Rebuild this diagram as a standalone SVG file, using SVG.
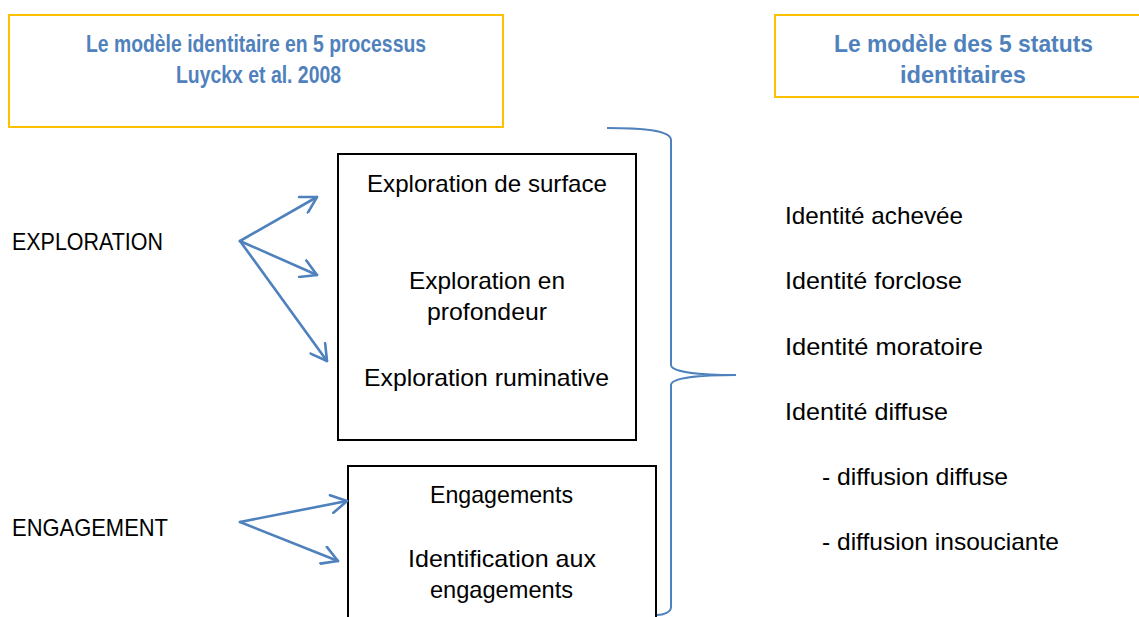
<svg xmlns="http://www.w3.org/2000/svg" width="1139" height="617" viewBox="0 0 1139 617">
<style>
.t{font-family:"Liberation Sans",Arial,sans-serif;font-size:24px;fill:#000}
.h{font-family:"Liberation Sans",Arial,sans-serif;font-size:24px;font-weight:bold;fill:#4F81BD}
.gold{fill:#fff;stroke:#FFC000;stroke-width:2}
.box{fill:#fff;stroke:#000;stroke-width:2}
.arr{fill:none;stroke:#4F81BD;stroke-width:2.6;stroke-linecap:round}
.brace{fill:none;stroke:#4F81BD;stroke-width:2}
</style>
<defs>
<marker id="ah" markerUnits="userSpaceOnUse" viewBox="0 0 20 20" refX="18" refY="10" markerWidth="20" markerHeight="20" orient="auto">
<path d="M2.4,1 L18,10 L2.4,19" fill="none" stroke="#4F81BD" stroke-width="2.6" stroke-linecap="round" stroke-linejoin="round"/>
</marker>
</defs>
<rect width="1139" height="617" fill="#fff"/>
<g id="title-left">
<rect class="gold" x="9" y="15" width="494" height="112"/>
<text class="h" x="86" y="52" textLength="340" lengthAdjust="spacingAndGlyphs">Le modèle identitaire en 5 processus</text>
<text class="h" x="176" y="83" textLength="165" lengthAdjust="spacingAndGlyphs">Luyckx et al. 2008</text>
</g>
<g id="title-right">
<rect class="gold" x="775" y="15" width="380" height="82"/>
<text class="h" x="834" y="52" textLength="259" lengthAdjust="spacingAndGlyphs">Le modèle des 5 statuts</text>
<text class="h" x="900" y="83" textLength="126" lengthAdjust="spacingAndGlyphs">identitaires</text>
</g>
<g id="label-exploration">
<text class="t" x="12" y="250" textLength="151" lengthAdjust="spacingAndGlyphs">EXPLORATION</text>
</g>
<g id="label-engagement">
<text class="t" x="12" y="536" textLength="156" lengthAdjust="spacingAndGlyphs">ENGAGEMENT</text>
</g>
<g id="box-exploration">
<rect class="box" x="338" y="154" width="298" height="286"/>
<text class="t" x="367" y="192" textLength="240" lengthAdjust="spacingAndGlyphs">Exploration de surface</text>
<text class="t" x="409" y="289" textLength="156" lengthAdjust="spacingAndGlyphs">Exploration en</text>
<text class="t" x="427" y="320" textLength="120" lengthAdjust="spacingAndGlyphs">profondeur</text>
<text class="t" x="364" y="386" textLength="245" lengthAdjust="spacingAndGlyphs">Exploration ruminative</text>
</g>
<g id="box-engagement">
<rect class="box" x="348" y="466" width="308" height="160"/>
<text class="t" x="430" y="503" textLength="143" lengthAdjust="spacingAndGlyphs">Engagements</text>
<text class="t" x="408" y="567" textLength="188" lengthAdjust="spacingAndGlyphs">Identification aux</text>
<text class="t" x="430" y="598" textLength="143" lengthAdjust="spacingAndGlyphs">engagements</text>
</g>
<g id="statuts">
<text class="t" x="785" y="224" textLength="178" lengthAdjust="spacingAndGlyphs">Identité achevée</text>
<text class="t" x="785" y="289" textLength="177" lengthAdjust="spacingAndGlyphs">Identité forclose</text>
<text class="t" x="785" y="355" textLength="198" lengthAdjust="spacingAndGlyphs">Identité moratoire</text>
<text class="t" x="785" y="420" textLength="163" lengthAdjust="spacingAndGlyphs">Identité diffuse</text>
<text class="t" x="822" y="485" textLength="186" lengthAdjust="spacingAndGlyphs">- diffusion diffuse</text>
<text class="t" x="822" y="550" textLength="237" lengthAdjust="spacingAndGlyphs">- diffusion insouciante</text>
</g>
<g id="connectors">
<line class="arr" x1="240" y1="241" x2="317" y2="197" marker-end="url(#ah)"/>
<line class="arr" x1="240" y1="241" x2="317" y2="275" marker-end="url(#ah)"/>
<line class="arr" x1="240" y1="241" x2="327" y2="361" marker-end="url(#ah)"/>
<line class="arr" x1="240" y1="522" x2="347" y2="501" marker-end="url(#ah)"/>
<line class="arr" x1="240" y1="522" x2="338" y2="561" marker-end="url(#ah)"/>
<path class="brace" d="M607,128 C640,128 671,130 671,140 L671,365 C671,372 700,375 736,375 C700,375 671,378 671,385 L671,607 C671,612 664,615 657,615"/>
</g>
</svg>
